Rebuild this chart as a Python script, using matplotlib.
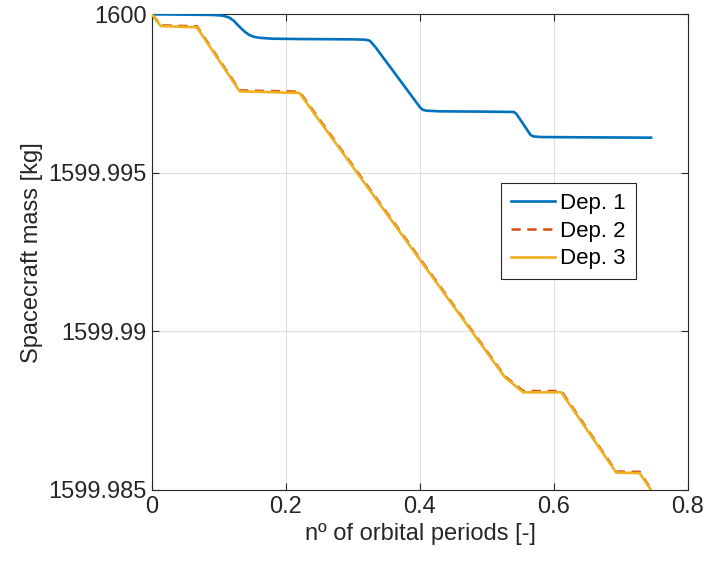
import matplotlib
matplotlib.use("Agg")
import matplotlib.pyplot as plt

plt.rcParams['font.family'] = ['Liberation Sans', 'DejaVu Sans']

# Dep. 1 (blue)
x1 = [0.0, 0.05, 0.09, 0.105, 0.115, 0.122, 0.13, 0.138, 0.145, 0.152, 0.16, 0.18, 0.22, 0.30, 0.318, 0.325,
      0.333, 0.40, 0.404, 0.41, 0.43, 0.50, 0.54, 0.544, 0.565, 0.569, 0.58, 0.65, 0.745]
m1 = [1600.0, 1599.99999, 1599.99998, 1599.99996, 1599.99990, 1599.99980, 1599.99962, 1599.99946, 1599.99935,
      1599.99929, 1599.99926, 1599.99923, 1599.99922, 1599.99921, 1599.99920, 1599.99917,
      1599.99898, 1599.99707, 1599.99699, 1599.99696, 1599.99694, 1599.99693, 1599.99692, 1599.99686,
      1599.99620, 1599.99615, 1599.99613, 1599.99612, 1599.99611]

# Dep. 2 (dashed orange)
x2 = [0.0, 0.013, 0.067, 0.131, 0.22, 0.527, 0.554, 0.611, 0.693, 0.728, 0.744]
m2 = [1600.0, 1599.99965, 1599.99962, 1599.99760, 1599.99756, 1599.98858, 1599.98812, 1599.98812,
      1599.98558, 1599.98557, 1599.98505]

# Dep. 3 (yellow)
x3 = [0.0, 0.013, 0.067, 0.131, 0.22, 0.527, 0.554, 0.611, 0.693, 0.728, 0.744]
m3 = [1600.0, 1599.99963, 1599.99959, 1599.99757, 1599.99752, 1599.98855, 1599.98808, 1599.98808,
      1599.98555, 1599.98553, 1599.98503]

labels = ['Dep. 1', 'Dep. 2', 'Dep. 3']
xticks = [0, 0.2, 0.4, 0.6, 0.8]
xticklabels = ['0', '0.2', '0.4', '0.6', '0.8']
yticks = [1599.985, 1599.99, 1599.995, 1600]
yticklabels = ['1599.985', '1599.99', '1599.995', '1600']

txt = '#262626'
fig = plt.figure(figsize=(7.07, 5.63), dpi=100)
ax = fig.add_axes([0.215, 0.1297, 0.758, 0.8449])

ax.plot(x1, m1, color='#0072BD', lw=1.9, label=labels[0], zorder=3)
ax.plot(x2, m2, color='#D95319', lw=1.9, ls=(0, (3.5, 2.5)), label=labels[1], zorder=3)
ax.plot(x3, m3, color='#EDB120', lw=1.9, label=labels[2], zorder=4)

ax.set_xlim(0, 0.8)
ax.set_ylim(1599.985, 1600)
ax.set_xticks(xticks)
ax.set_xticklabels(xticklabels)
ax.set_yticks(yticks)
ax.set_yticklabels(yticklabels)
ax.grid(True, color='#dfdfdf', lw=0.8)
ax.set_axisbelow(True)
ax.tick_params(direction='in', top=True, right=True, length=5, width=0.8,
               labelsize=17, colors=txt, pad=4)
for s in ax.spines.values():
    s.set_color('#262626')
    s.set_linewidth(0.8)

ax.set_xlabel('nº of orbital periods [-]', fontsize=17, color=txt, labelpad=4)
ax.set_ylabel('Spacecraft mass [kg]', fontsize=17, color=txt, labelpad=4)

leg = ax.legend(loc='upper right', bbox_to_anchor=(0.903, 0.645), fontsize=16,
                frameon=True, fancybox=False, edgecolor='#262626', framealpha=1,
                borderpad=0.45, handlelength=1.95, handletextpad=0.25, labelspacing=0.3,
                borderaxespad=0)
leg.get_frame().set_linewidth(0.8)
for t in leg.get_texts():
    t.set_color('black')

fig.savefig('out.png', dpi=100)
